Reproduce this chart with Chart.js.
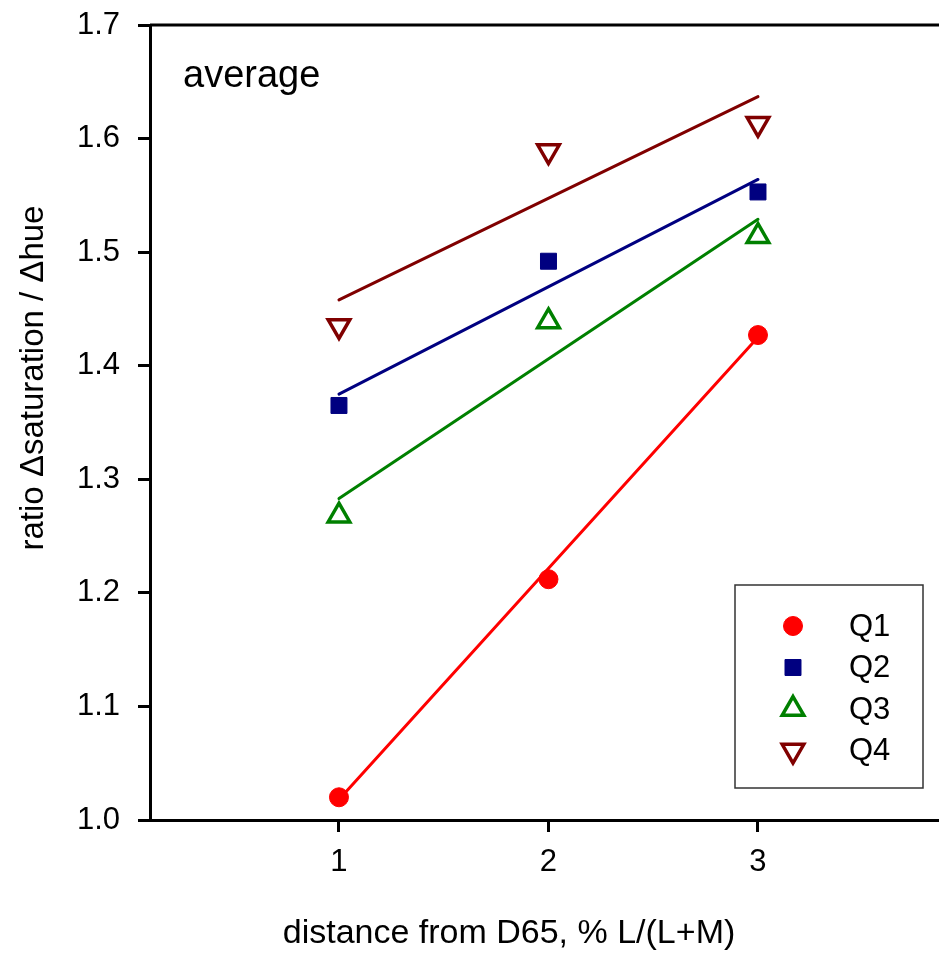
<!DOCTYPE html>
<html>
<head>
<meta charset="utf-8">
<script src="https://cdn.jsdelivr.net/npm/chart.js@4.4.1/dist/chart.umd.min.js"></script>
<style>
  html, body { margin: 0; padding: 0; background: #fff; overflow: hidden; }
  #wrap { width: 939px; height: 957px; }
</style>
</head>
<body>
<div id="wrap"><canvas id="chart" width="939" height="957"></canvas></div>
<script>
// measured points
const distances = [1, 2, 3];
const q1 = [1.020, 1.212, 1.427];
const q2 = [1.365, 1.492, 1.553];
const q3 = [1.268, 1.439, 1.514];
const q4 = [1.435, 1.589, 1.613];

// regression lines, end points
const fitX = [1, 3];
const q1Fit = [1.018, 1.425];
const q2Fit = [1.375, 1.564];
const q3Fit = [1.283, 1.529];
const q4Fit = [1.458, 1.637];

const xTicks = [1, 2, 3];
const seriesNames = ['Q1', 'Q2', 'Q3', 'Q4'];
const panelLabel = 'average';
const xTitle = 'distance from D65, % L/(L+M)';
const yTitle = 'ratio \u0394saturation / \u0394hue';

const FONT = 'Arial, "Liberation Sans", Helvetica, sans-serif';

const colors = {
  Q1: '#ff0000',
  Q2: '#000080',
  Q3: '#008000',
  Q4: '#800000'
};

const markers = {
  Q1: { pointStyle: 'circle', radius: 9.5, rotation: 0, fill: colors.Q1, borderWidth: 1 },
  Q2: { pointStyle: 'rect', radius: 11.3, rotation: 0, fill: colors.Q2, borderWidth: 1 },
  Q3: { pointStyle: 'triangle', radius: 12.5, rotation: 0, fill: '#ffffff', borderWidth: 3.5 },
  Q4: { pointStyle: 'triangle', radius: 12.5, rotation: 180, fill: '#ffffff', borderWidth: 3.5 }
};

function pts(xs, ys) {
  return xs.map((x, i) => ({ x: x, y: ys[i] }));
}

function pointSet(name, ys) {
  const m = markers[name];
  return {
    label: name,
    data: pts(distances, ys),
    showLine: false,
    pointStyle: m.pointStyle,
    pointRadius: m.radius,
    pointRotation: m.rotation,
    pointBackgroundColor: m.fill,
    pointBorderColor: colors[name],
    pointBorderWidth: m.borderWidth
  };
}

function fitSet(name, ys) {
  return {
    label: name + ' fit',
    data: pts(fitX, ys),
    showLine: true,
    borderColor: colors[name],
    borderWidth: 3,
    pointRadius: 0,
    borderCapStyle: 'round'
  };
}

// top frame line, axis titles, panel label and the boxed legend
const extras = {
  id: 'extras',
  afterDraw(chart) {
    const { ctx, chartArea } = chart;
    ctx.save();
    ctx.strokeStyle = '#000';
    ctx.lineWidth = 3;
    ctx.beginPath();
    ctx.moveTo(chartArea.left, chartArea.top);
    ctx.lineTo(chartArea.right, chartArea.top);
    ctx.stroke();

    ctx.fillStyle = '#000';
    ctx.textBaseline = 'middle';
    ctx.textAlign = 'center';
    ctx.font = '34px ' + FONT;
    ctx.fillText(xTitle, 509, 934);

    ctx.save();
    ctx.translate(34, 378);
    ctx.rotate(-Math.PI / 2);
    ctx.font = '33px ' + FONT;
    ctx.fillText(yTitle, 0, 0);
    ctx.restore();

    ctx.textAlign = 'left';
    ctx.font = '38px ' + FONT;
    ctx.fillText(panelLabel, 183, 77);

    // legend box
    ctx.lineWidth = 1.5;
    ctx.strokeStyle = '#333';
    ctx.strokeRect(735, 585, 188, 203);
    ctx.font = '31px ' + FONT;
    seriesNames.forEach((name, i) => {
      const y = 626 + i * 41.5;
      const m = markers[name];
      ctx.fillStyle = m.fill;
      ctx.strokeStyle = colors[name];
      ctx.lineWidth = m.borderWidth;
      Chart.helpers.drawPoint(ctx, {
        pointStyle: m.pointStyle,
        radius: m.radius,
        rotation: m.rotation,
        borderWidth: m.borderWidth
      }, 793, y);
      ctx.fillStyle = '#000';
      ctx.fillText(name, 849, y + 1);
    });
    ctx.restore();
  }
};

new Chart(document.getElementById('chart'), {
  type: 'scatter',
  data: {
    datasets: [
      pointSet('Q1', q1),
      pointSet('Q2', q2),
      pointSet('Q3', q3),
      pointSet('Q4', q4),
      fitSet('Q1', q1Fit),
      fitSet('Q2', q2Fit),
      fitSet('Q3', q3Fit),
      fitSet('Q4', q4Fit)
    ]
  },
  options: {
    responsive: false,
    animation: false,
    layout: { autoPadding: false, padding: { top: 25, right: 0, left: 0, bottom: 0 } },
    plugins: {
      legend: { display: false },
      tooltip: { enabled: false }
    },
    scales: {
      x: {
        type: 'linear',
        min: 0.098,
        max: 3.864,
        afterBuildTicks: axis => { axis.ticks = xTicks.map(v => ({ value: v })); },
        afterFit: axis => {
          axis.height = 137;
          axis.paddingLeft = 0;
          axis.paddingRight = 0;
        },
        ticks: {
          color: '#000',
          font: { family: FONT, size: 31 },
          padding: 12
        },
        grid: {
          drawOnChartArea: false,
          drawTicks: true,
          tickLength: 12,
          tickWidth: 3,
          tickColor: '#000'
        },
        border: { display: true, color: '#000', width: 3 }
      },
      y: {
        type: 'linear',
        min: 1.0,
        max: 1.7,
        afterFit: axis => {
          axis.width = 150;
          axis.paddingTop = 0;
          axis.paddingBottom = 0;
        },
        ticks: {
          stepSize: 0.1,
          color: '#000',
          font: { family: FONT, size: 31 },
          padding: 18,
          callback: v => v.toFixed(1)
        },
        grid: {
          drawOnChartArea: false,
          drawTicks: true,
          tickLength: 12,
          tickWidth: 3,
          tickColor: '#000'
        },
        border: { display: true, color: '#000', width: 3 }
      }
    }
  },
  plugins: [extras]
});
</script>
</body>
</html>
